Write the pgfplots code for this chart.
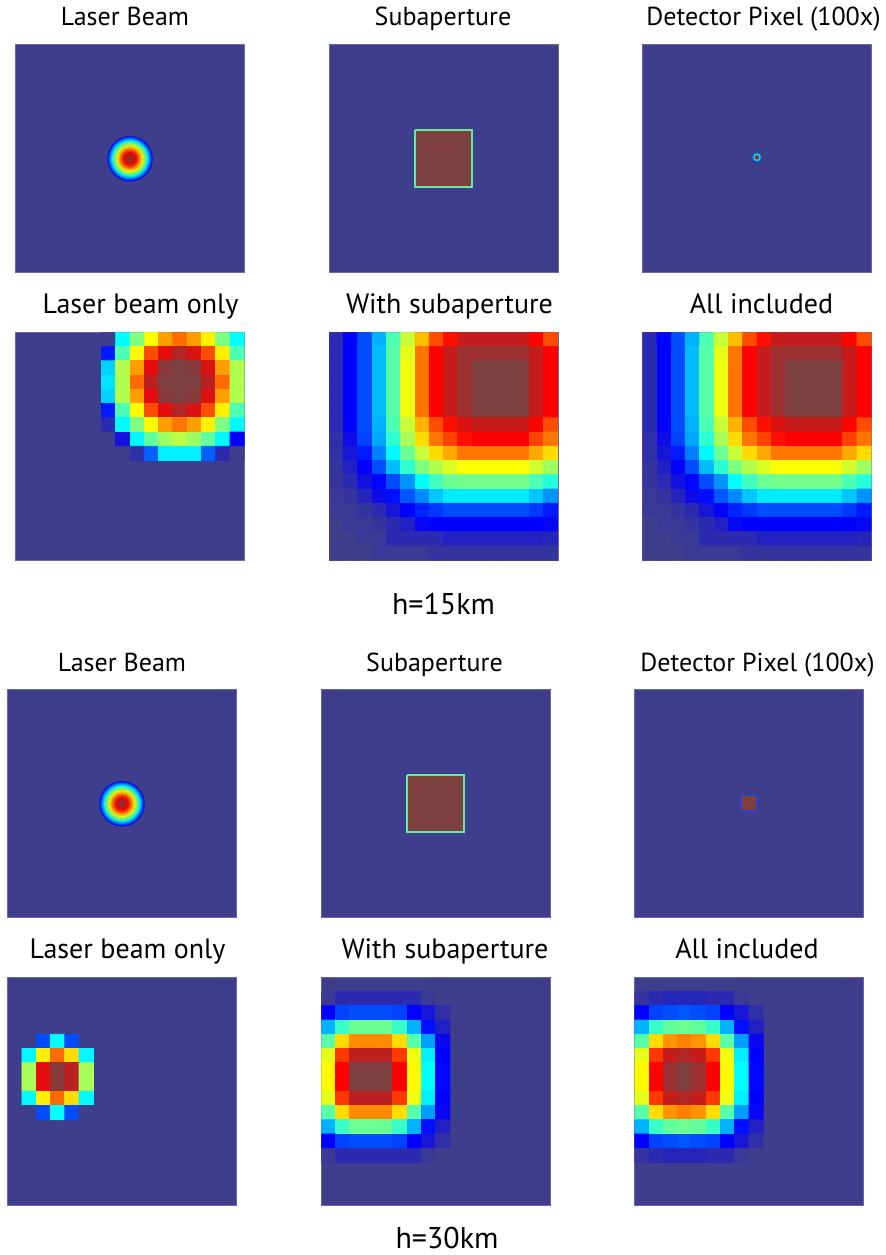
\documentclass[border=0pt]{standalone}
\usepackage{fontspec}
\setmainfont{PT Sans}
\usepackage{pgfplots}
\pgfplotsset{compat=1.18}
\usepackage{pgfplotstable}

\definecolor{bgc}{RGB}{63,62,140}
\definecolor{maxc}{RGB}{126,63,63}
\definecolor{edgec}{RGB}{105,105,170}
\definecolor{aquac}{RGB}{100,235,160}
\definecolor{detb}{RGB}{30,70,255}

\pgfplotsset{
  colormap={myjet}{rgb255(0cm)=(63,62,140) rgb255(1cm)=(0,0,255) rgb255(3cm)=(0,255,255) rgb255(5cm)=(255,255,0) rgb255(7cm)=(255,0,0) rgb255(8cm)=(126,63,63)},
  panel/.style={
    width=114.3pt, height=114pt, scale only axis,
    xmin=-0.5, xmax=15.5, ymin=-0.5, ymax=15.5, y dir=reverse,
    enlargelimits=false, xtick=\empty, ytick=\empty,
    axis background/.style={fill=bgc},
    axis line style={draw=edgec, line width=0.4pt},
    colormap name=myjet, point meta min=0, point meta max=1,
    anchor=north west,
  },
  pix/.style={matrix plot*, mesh/cols=#1, point meta=explicit},
  rings/.style={scatter, only marks, mark=*, point meta=explicit,
    mark options={line width=0.1pt},
    visualization depends on={\thisrow{s} \as \msz},
    scatter/@pre marker code/.append style={/tikz/mark size=\msz}},
}

% Laser beam disk (radial profile), drawn as concentric rings
\pgfplotstableread[row sep=\\]{
x y v s\\
7.5 7.55 0.14 11.25\\ 7.5 7.55 0.2 10.69\\ 7.5 7.55 0.26 10.13\\ 7.5 7.55 0.32 9.56\\
7.5 7.55 0.38 9.0\\ 7.5 7.55 0.44 8.44\\ 7.5 7.55 0.5 7.88\\ 7.5 7.55 0.55 7.31\\
7.5 7.55 0.6 6.75\\ 7.5 7.55 0.65 6.19\\ 7.5 7.55 0.7 5.63\\ 7.5 7.55 0.745 5.06\\
7.5 7.55 0.79 4.5\\ 7.5 7.55 0.83 3.94\\ 7.5 7.55 0.86 3.38\\ 7.5 7.55 0.89 2.81\\
7.5 7.55 0.92 2.25\\ 7.5 7.55 0.95 1.69\\ 7.5 7.55 0.975 1.13\\ 7.5 7.55 0.99 0.56\\
}\disk

\pgfplotstableread[row sep=\\]{
x y v s\\
7.5 7.45 0.25 2.3\\ 7.5 7.45 0.37 1.8\\ 7.5 7.45 0.96 1.1\\
}\detdisk

% Laser beam only, h=15km (rows 0-8, cols 6-15)
\pgfplotstableread[row sep=\\]{
x y v\\
6 0 0\\ 7 0 0.375\\ 8 0 0.5\\ 9 0 0.625\\ 10 0 0.72\\ 11 0 0.77\\ 12 0 0.72\\ 13 0 0.64\\ 14 0 0.5\\ 15 0 0.375\\
6 1 0.15\\ 7 1 0.45\\ 8 1 0.63\\ 9 1 0.8\\ 10 1 0.9\\ 11 1 0.95\\ 12 1 0.91\\ 13 1 0.8\\ 14 1 0.64\\ 15 1 0.45\\
6 2 0.33\\ 7 2 0.55\\ 8 2 0.72\\ 9 2 0.9\\ 10 2 0.99\\ 11 2 1\\ 12 2 0.99\\ 13 2 0.91\\ 14 2 0.72\\ 15 2 0.55\\
6 3 0.35\\ 7 3 0.55\\ 8 3 0.77\\ 9 3 0.94\\ 10 3 1\\ 11 3 1\\ 12 3 1\\ 13 3 0.94\\ 14 3 0.77\\ 15 3 0.55\\
6 4 0.33\\ 7 4 0.55\\ 8 4 0.72\\ 9 4 0.9\\ 10 4 0.99\\ 11 4 1\\ 12 4 0.99\\ 13 4 0.91\\ 14 4 0.72\\ 15 4 0.55\\
6 5 0.15\\ 7 5 0.45\\ 8 5 0.63\\ 9 5 0.8\\ 10 5 0.9\\ 11 5 0.95\\ 12 5 0.91\\ 13 5 0.8\\ 14 5 0.64\\ 15 5 0.45\\
6 6 0.04\\ 7 6 0.37\\ 8 6 0.5\\ 9 6 0.63\\ 10 6 0.72\\ 11 6 0.76\\ 12 6 0.72\\ 13 6 0.64\\ 14 6 0.5\\ 15 6 0.37\\
6 7 0\\ 7 7 0.09\\ 8 7 0.37\\ 9 7 0.47\\ 10 7 0.53\\ 11 7 0.56\\ 12 7 0.53\\ 13 7 0.47\\ 14 7 0.37\\ 15 7 0.125\\
6 8 0\\ 7 8 0\\ 8 8 0.03\\ 9 8 0.22\\ 10 8 0.36\\ 11 8 0.36\\ 12 8 0.36\\ 13 8 0.22\\ 14 8 0.04\\ 15 8 0\\
}\lbA

% With subaperture / all included, h=15km (full 16x16)
\pgfplotstableread[row sep=\\]{
x y v\\
0 0 0.04\\ 1 0 0.12\\ 2 0 0.2\\ 3 0 0.3\\ 4 0 0.45\\ 5 0 0.57\\ 6 0 0.69\\ 7 0 0.8\\ 8 0 0.86\\ 9 0 0.93\\ 10 0 0.93\\ 11 0 0.93\\ 12 0 0.93\\ 13 0 0.93\\ 14 0 0.87\\ 15 0 0.8\\
0 1 0.04\\ 1 1 0.125\\ 2 1 0.2\\ 3 1 0.31\\ 4 1 0.46\\ 5 1 0.6\\ 6 1 0.76\\ 7 1 0.875\\ 8 1 0.93\\ 9 1 0.97\\ 10 1 0.97\\ 11 1 0.97\\ 12 1 0.97\\ 13 1 0.97\\ 14 1 0.93\\ 15 1 0.875\\
0 2 0.04\\ 1 2 0.125\\ 2 2 0.2\\ 3 2 0.31\\ 4 2 0.46\\ 5 2 0.61\\ 6 2 0.76\\ 7 2 0.875\\ 8 2 0.93\\ 9 2 0.97\\ 10 2 1\\ 11 2 1\\ 12 2 1\\ 13 2 1\\ 14 2 0.93\\ 15 2 0.875\\
0 3 0.04\\ 1 3 0.125\\ 2 3 0.2\\ 3 3 0.31\\ 4 3 0.46\\ 5 3 0.61\\ 6 3 0.76\\ 7 3 0.875\\ 8 3 0.93\\ 9 3 0.97\\ 10 3 1\\ 11 3 1\\ 12 3 1\\ 13 3 1\\ 14 3 0.93\\ 15 3 0.875\\
0 4 0.04\\ 1 4 0.125\\ 2 4 0.2\\ 3 4 0.31\\ 4 4 0.46\\ 5 4 0.61\\ 6 4 0.76\\ 7 4 0.875\\ 8 4 0.93\\ 9 4 0.97\\ 10 4 1\\ 11 4 1\\ 12 4 1\\ 13 4 1\\ 14 4 0.93\\ 15 4 0.875\\
0 5 0.04\\ 1 5 0.125\\ 2 5 0.2\\ 3 5 0.31\\ 4 5 0.46\\ 5 5 0.61\\ 6 5 0.76\\ 7 5 0.875\\ 8 5 0.93\\ 9 5 0.97\\ 10 5 1\\ 11 5 1\\ 12 5 1\\ 13 5 1\\ 14 5 0.93\\ 15 5 0.875\\
0 6 0.04\\ 1 6 0.12\\ 2 6 0.2\\ 3 6 0.3\\ 4 6 0.45\\ 5 6 0.57\\ 6 6 0.7\\ 7 6 0.8\\ 8 6 0.86\\ 9 6 0.91\\ 10 6 0.93\\ 11 6 0.93\\ 12 6 0.93\\ 13 6 0.93\\ 14 6 0.87\\ 15 6 0.8\\
0 7 0.03\\ 1 7 0.1\\ 2 7 0.19\\ 3 7 0.29\\ 4 7 0.42\\ 5 7 0.54\\ 6 7 0.66\\ 7 7 0.76\\ 8 7 0.81\\ 9 7 0.86\\ 10 7 0.875\\ 11 7 0.875\\ 12 7 0.875\\ 13 7 0.875\\ 14 7 0.81\\ 15 7 0.76\\
0 8 0.03\\ 1 8 0.08\\ 2 8 0.15\\ 3 8 0.25\\ 4 8 0.37\\ 5 8 0.48\\ 6 8 0.57\\ 7 8 0.66\\ 8 8 0.71\\ 9 8 0.76\\ 10 8 0.76\\ 11 8 0.76\\ 12 8 0.76\\ 13 8 0.76\\ 14 8 0.71\\ 15 8 0.66\\
0 9 0.02\\ 1 9 0.06\\ 2 9 0.12\\ 3 9 0.2\\ 4 9 0.31\\ 5 9 0.42\\ 6 9 0.5\\ 7 9 0.55\\ 8 9 0.59\\ 9 9 0.62\\ 10 9 0.62\\ 11 9 0.62\\ 12 9 0.62\\ 13 9 0.62\\ 14 9 0.58\\ 15 9 0.53\\
0 10 0.02\\ 1 10 0.04\\ 2 10 0.09\\ 3 10 0.13\\ 4 10 0.2\\ 5 10 0.27\\ 6 10 0.375\\ 7 10 0.44\\ 8 10 0.48\\ 9 10 0.49\\ 10 10 0.49\\ 11 10 0.49\\ 12 10 0.49\\ 13 10 0.49\\ 14 10 0.45\\ 15 10 0.41\\
0 11 0.01\\ 1 11 0.02\\ 2 11 0.05\\ 3 11 0.1\\ 4 11 0.14\\ 5 11 0.21\\ 6 11 0.26\\ 7 11 0.32\\ 8 11 0.355\\ 9 11 0.355\\ 10 11 0.355\\ 11 11 0.355\\ 12 11 0.355\\ 13 11 0.355\\ 14 11 0.32\\ 15 11 0.27\\
0 12 0.01\\ 1 12 0.01\\ 2 12 0.02\\ 3 12 0.04\\ 4 12 0.08\\ 5 12 0.12\\ 6 12 0.16\\ 7 12 0.18\\ 8 12 0.2\\ 9 12 0.2\\ 10 12 0.2\\ 11 12 0.2\\ 12 12 0.2\\ 13 12 0.2\\ 14 12 0.18\\ 15 12 0.15\\
0 13 0\\ 1 13 0.01\\ 2 13 0.01\\ 3 13 0.02\\ 4 13 0.04\\ 5 13 0.06\\ 6 13 0.11\\ 7 13 0.125\\ 8 13 0.125\\ 9 13 0.125\\ 10 13 0.125\\ 11 13 0.125\\ 12 13 0.125\\ 13 13 0.125\\ 14 13 0.125\\ 15 13 0.11\\
0 14 0\\ 1 14 0\\ 2 14 0.01\\ 3 14 0.01\\ 4 14 0.04\\ 5 14 0.04\\ 6 14 0.04\\ 7 14 0.04\\ 8 14 0.06\\ 9 14 0.06\\ 10 14 0.06\\ 11 14 0.06\\ 12 14 0.06\\ 13 14 0.06\\ 14 14 0.06\\ 15 14 0.05\\
0 15 0\\ 1 15 0\\ 2 15 0\\ 3 15 0.01\\ 4 15 0.01\\ 5 15 0.01\\ 6 15 0.01\\ 7 15 0.02\\ 8 15 0.02\\ 9 15 0.02\\ 10 15 0.02\\ 11 15 0.02\\ 12 15 0.02\\ 13 15 0.02\\ 14 15 0.02\\ 15 15 0.02\\
}\wsA

% Laser beam only, h=30km (rows 4-9, cols 1-5)
\pgfplotstableread[row sep=\\]{
x y v\\
1 4 0\\ 2 4 0.2\\ 3 4 0.375\\ 4 4 0.2\\ 5 4 0\\
1 5 0.37\\ 2 5 0.64\\ 3 5 0.77\\ 4 5 0.66\\ 5 5 0.37\\
1 6 0.54\\ 2 6 0.9\\ 3 6 0.99\\ 4 6 0.94\\ 5 6 0.54\\
1 7 0.54\\ 2 7 0.9\\ 3 7 0.99\\ 4 7 0.94\\ 5 7 0.54\\
1 8 0.37\\ 2 8 0.64\\ 3 8 0.77\\ 4 8 0.66\\ 5 8 0.37\\
1 9 0\\ 2 9 0.2\\ 3 9 0.375\\ 4 9 0.2\\ 5 9 0\\
}\lbB

% With subaperture, h=30km (rows 1-12, cols 0-8)
\pgfplotstableread[row sep=\\]{
x y v\\
0 1 0.01\\ 1 1 0.04\\ 2 1 0.04\\ 3 1 0.04\\ 4 1 0.04\\ 5 1 0.04\\ 6 1 0.04\\ 7 1 0.01\\ 8 1 0\\
0 2 0.125\\ 1 2 0.19\\ 2 2 0.2\\ 3 2 0.2\\ 4 2 0.2\\ 5 2 0.19\\ 6 2 0.125\\ 7 2 0.08\\ 8 2 0.03\\
0 3 0.3\\ 1 3 0.43\\ 2 3 0.48\\ 3 3 0.48\\ 4 3 0.48\\ 5 3 0.43\\ 6 3 0.3\\ 7 3 0.14\\ 8 3 0.06\\
0 4 0.46\\ 1 4 0.66\\ 2 4 0.74\\ 3 4 0.74\\ 4 4 0.74\\ 5 4 0.66\\ 6 4 0.46\\ 7 4 0.28\\ 8 4 0.11\\
0 5 0.6\\ 1 5 0.82\\ 2 5 0.94\\ 3 5 0.94\\ 4 5 0.94\\ 5 5 0.82\\ 6 5 0.61\\ 7 5 0.36\\ 8 5 0.125\\
0 6 0.63\\ 1 6 0.875\\ 2 6 1\\ 3 6 1\\ 4 6 1\\ 5 6 0.875\\ 6 6 0.63\\ 7 6 0.375\\ 8 6 0.13\\
0 7 0.63\\ 1 7 0.875\\ 2 7 1\\ 3 7 1\\ 4 7 1\\ 5 7 0.875\\ 6 7 0.63\\ 7 7 0.375\\ 8 7 0.13\\
0 8 0.6\\ 1 8 0.82\\ 2 8 0.94\\ 3 8 0.94\\ 4 8 0.94\\ 5 8 0.82\\ 6 8 0.61\\ 7 8 0.36\\ 8 8 0.125\\
0 9 0.46\\ 1 9 0.66\\ 2 9 0.74\\ 3 9 0.74\\ 4 9 0.74\\ 5 9 0.66\\ 6 9 0.46\\ 7 9 0.28\\ 8 9 0.11\\
0 10 0.3\\ 1 10 0.43\\ 2 10 0.48\\ 3 10 0.48\\ 4 10 0.48\\ 5 10 0.43\\ 6 10 0.3\\ 7 10 0.14\\ 8 10 0.06\\
0 11 0.125\\ 1 11 0.19\\ 2 11 0.2\\ 3 11 0.2\\ 4 11 0.2\\ 5 11 0.19\\ 6 11 0.125\\ 7 11 0.08\\ 8 11 0.03\\
0 12 0.01\\ 1 12 0.04\\ 2 12 0.04\\ 3 12 0.04\\ 4 12 0.04\\ 5 12 0.04\\ 6 12 0.04\\ 7 12 0.01\\ 8 12 0\\
}\wsB

% All included, h=30km (rows 1-12, cols 0-8)
\pgfplotstableread[row sep=\\]{
x y v\\
0 1 0.02\\ 1 1 0.04\\ 2 1 0.05\\ 3 1 0.05\\ 4 1 0.05\\ 5 1 0.04\\ 6 1 0.04\\ 7 1 0.01\\ 8 1 0\\
0 2 0.125\\ 1 2 0.19\\ 2 2 0.2\\ 3 2 0.21\\ 4 2 0.2\\ 5 2 0.19\\ 6 2 0.125\\ 7 2 0.08\\ 8 2 0.03\\
0 3 0.3\\ 1 3 0.43\\ 2 3 0.47\\ 3 3 0.48\\ 4 3 0.47\\ 5 3 0.43\\ 6 3 0.3\\ 7 3 0.14\\ 8 3 0.06\\
0 4 0.46\\ 1 4 0.66\\ 2 4 0.73\\ 3 4 0.75\\ 4 4 0.73\\ 5 4 0.66\\ 6 4 0.46\\ 7 4 0.28\\ 8 4 0.11\\
0 5 0.6\\ 1 5 0.82\\ 2 5 0.93\\ 3 5 0.95\\ 4 5 0.93\\ 5 5 0.82\\ 6 5 0.61\\ 7 5 0.36\\ 8 5 0.125\\
0 6 0.63\\ 1 6 0.875\\ 2 6 0.97\\ 3 6 1\\ 4 6 0.97\\ 5 6 0.875\\ 6 6 0.63\\ 7 6 0.375\\ 8 6 0.13\\
0 7 0.63\\ 1 7 0.875\\ 2 7 0.97\\ 3 7 1\\ 4 7 0.97\\ 5 7 0.875\\ 6 7 0.63\\ 7 7 0.375\\ 8 7 0.13\\
0 8 0.6\\ 1 8 0.82\\ 2 8 0.93\\ 3 8 0.95\\ 4 8 0.93\\ 5 8 0.82\\ 6 8 0.61\\ 7 8 0.36\\ 8 8 0.125\\
0 9 0.46\\ 1 9 0.66\\ 2 9 0.73\\ 3 9 0.75\\ 4 9 0.73\\ 5 9 0.66\\ 6 9 0.46\\ 7 9 0.28\\ 8 9 0.11\\
0 10 0.3\\ 1 10 0.43\\ 2 10 0.47\\ 3 10 0.48\\ 4 10 0.47\\ 5 10 0.43\\ 6 10 0.3\\ 7 10 0.14\\ 8 10 0.06\\
0 11 0.125\\ 1 11 0.19\\ 2 11 0.2\\ 3 11 0.21\\ 4 11 0.2\\ 5 11 0.19\\ 6 11 0.125\\ 7 11 0.08\\ 8 11 0.03\\
0 12 0.02\\ 1 12 0.04\\ 2 12 0.05\\ 3 12 0.05\\ 4 12 0.05\\ 5 12 0.04\\ 6 12 0.04\\ 7 12 0.01\\ 8 12 0\\
}\aiB

\newcommand{\tf}{\fontsize{13}{15}\selectfont}
\newcommand{\tfb}{\fontsize{14}{16}\selectfont}
\newcommand{\hf}{\fontsize{15}{18}\selectfont}

\begin{document}
\begin{tikzpicture}
\useasboundingbox (0,0) rectangle (443pt,-627.5pt);

% ---------- h = 15 km ----------
\node[anchor=base, font=\tf] at (62.5pt,-12.75pt) {Laser Beam};
\node[anchor=base, font=\tf] at (221.5pt,-12.75pt) {Subaperture};
\node[anchor=base, font=\tf] at (381.75pt,-12.75pt) {Detector Pixel (100x)};

\begin{axis}[panel, at={(7.85pt,-22pt)}]
\addplot[rings] table[x=x, y=y, meta=v] {\disk};
\end{axis}
\begin{axis}[panel, at={(164.65pt,-22pt)}]
\addplot[fill=maxc, draw=aquac, line width=1pt, mark=none] coordinates {(5.5,5.5) (9.5,5.5) (9.5,9.5) (5.5,9.5) (5.5,5.5)};
\end{axis}
\begin{axis}[panel, at={(321.35pt,-22pt)}]
\addplot[rings] table[x=x, y=y, meta=v] {\detdisk};
\end{axis}

\node[anchor=base, font=\tfb] at (70.25pt,-156.75pt) {Laser beam only};
\node[anchor=base, font=\tfb] at (224.75pt,-156.75pt) {With subaperture};
\node[anchor=base, font=\tfb] at (380.75pt,-156.75pt) {All included};

\begin{axis}[panel, at={(7.85pt,-166.15pt)}]
\addplot[pix=10] table[x=x, y=y, meta=v] {\lbA};
\end{axis}
\begin{axis}[panel, at={(164.65pt,-166.15pt)}]
\addplot[pix=16] table[x=x, y=y, meta=v] {\wsA};
\end{axis}
\begin{axis}[panel, at={(321.35pt,-166.15pt)}]
\addplot[pix=16] table[x=x, y=y, meta=v] {\wsA};
\end{axis}

\node[anchor=base, font=\hf] at (221.75pt,-307pt) {h=15km};

% ---------- h = 30 km ----------
\node[anchor=base, font=\tf] at (61pt,-335.75pt) {Laser Beam};
\node[anchor=base, font=\tf] at (217.25pt,-335.75pt) {Subaperture};
\node[anchor=base, font=\tf] at (378.75pt,-335.75pt) {Detector Pixel (100x)};

\begin{axis}[panel, at={(3.85pt,-344.5pt)}]
\addplot[rings] table[x=x, y=y, meta=v] {\disk};
\end{axis}
\begin{axis}[panel, at={(160.65pt,-344.5pt)}]
\addplot[fill=maxc, draw=aquac, line width=1pt, mark=none] coordinates {(5.5,5.5) (9.5,5.5) (9.5,9.5) (5.5,9.5) (5.5,5.5)};
\end{axis}
\begin{axis}[panel, at={(317.35pt,-344.5pt)}]
\addplot[fill=maxc, draw=detb, line width=0.6pt, mark=none] coordinates {(7,7) (8,7) (8,8) (7,8) (7,7)};
\end{axis}

\node[anchor=base, font=\tfb] at (63.75pt,-479.25pt) {Laser beam only};
\node[anchor=base, font=\tfb] at (222.5pt,-479.25pt) {With subaperture};
\node[anchor=base, font=\tfb] at (373.5pt,-479.25pt) {All included};

\begin{axis}[panel, at={(3.85pt,-488.65pt)}]
\addplot[pix=5] table[x=x, y=y, meta=v] {\lbB};
\end{axis}
\begin{axis}[panel, at={(160.65pt,-488.65pt)}]
\addplot[pix=9] table[x=x, y=y, meta=v] {\wsB};
\end{axis}
\begin{axis}[panel, at={(317.35pt,-488.65pt)}]
\addplot[pix=9] table[x=x, y=y, meta=v] {\aiB};
\end{axis}

\node[anchor=base, font=\hf] at (223.5pt,-624pt) {h=30km};
\end{tikzpicture}
\end{document}
